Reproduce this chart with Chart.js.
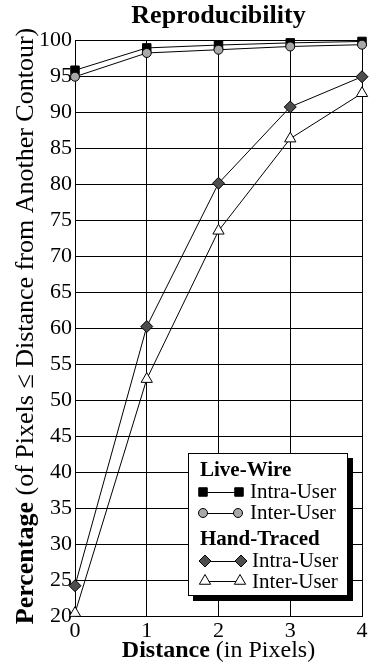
<!DOCTYPE html>
<html>
<head>
  <title>Reproducibility</title>
  <script src="https://cdn.jsdelivr.net/npm/chart.js"></script>
  <style>
    html, body { margin: 0; padding: 0; background: #fff; }
    #wrap { width: 372px; height: 663px; }
  </style>
</head>
<body>
  <div id="wrap"><canvas id="myChart" width="372" height="663"></canvas></div>
  <script>
    // Data
    const distances = [0, 1, 2, 3, 4];
    const liveWireIntra = [95.8, 98.9, 99.3, 99.6, 99.8];
    const liveWireInter = [94.9, 98.2, 98.65, 99.1, 99.35];
    const handIntra = [24.2, 60.2, 80.1, 90.7, 94.9];
    const handInter = [20.4, 52.9, 73.5, 86.3, 92.6];
    const yTicks = { min: 20, max: 100, step: 5 };
    const xTicks = { min: 0, max: 4, step: 1 };

    const serif = "'Liberation Serif', 'Times New Roman', serif";

    function pts(vals) {
      return distances.map((d, i) => ({ x: d, y: vals[i] }));
    }

    const styles = {
      lwIntra: { pointStyle: 'rect', radius: 6, fill: '#000000' },
      lwInter: { pointStyle: 'circle', radius: 4.5, fill: '#a8a8a8' },
      htIntra: { pointStyle: 'rectRot', radius: 6, fill: '#4d4d4d' },
      htInter: { pointStyle: 'triangle', radius: 6.5, fill: '#ffffff' }
    };

    function ds(label, vals, st, order) {
      return {
        label: label,
        data: pts(vals),
        borderColor: '#000',
        borderWidth: 1,
        pointStyle: st.pointStyle,
        pointRadius: st.radius,
        pointBackgroundColor: st.fill,
        pointBorderColor: '#000',
        pointBorderWidth: 1,
        tension: 0,
        clip: false,
        order: order
      };
    }

    // draw a marker like the chart does (used for the legend)
    function marker(ctx, st, x, y) {
      ctx.save();
      ctx.fillStyle = st.fill;
      ctx.strokeStyle = '#000';
      ctx.lineWidth = 1;
      Chart.helpers.drawPoint(ctx, { pointStyle: st.pointStyle, radius: st.radius, rotation: 0, borderWidth: 1 }, x, y);
      ctx.restore();
    }

    const textPlugin = {
      id: 'textPlugin',
      afterDraw(chart) {
        const ctx = chart.ctx;
        const a = chart.chartArea;
        ctx.save();
        ctx.fillStyle = '#000';
        ctx.textBaseline = 'alphabetic';

        // title
        ctx.font = 'bold 26px ' + serif;
        ctx.textAlign = 'center';
        ctx.fillText('Reproducibility', (a.left + a.right) / 2, 23);

        // mixed-weight axis title helper
        function mixed(parts, cx, cy, size) {
          let w = 0;
          parts.forEach(p => { ctx.font = p[1] + ' ' + size + 'px ' + serif; w += ctx.measureText(p[0]).width; });
          let x = cx - w / 2;
          ctx.textAlign = 'left';
          parts.forEach(p => {
            ctx.font = p[1] + ' ' + size + 'px ' + serif;
            ctx.fillText(p[0], x, cy);
            x += ctx.measureText(p[0]).width;
          });
        }
        mixed([['Distance', 'bold'], [' (in Pixels)', 'normal']], (a.left + a.right) / 2, 657, 24);

        ctx.save();
        ctx.translate(33, 326);
        ctx.rotate(-Math.PI / 2);
        mixed([['Percentage', 'bold'], [' (of Pixels \u2264 Distance from Another Contour)', 'normal']], 0, 0, 26);
        ctx.restore();

        // legend box with drop shadow
        const bx = 188, by = 453, bw = 160, bh = 143;
        ctx.fillStyle = '#000';
        ctx.fillRect(bx + 5, by + 5, bw, bh);
        ctx.fillStyle = '#fff';
        ctx.fillRect(bx, by, bw, bh);
        ctx.strokeStyle = '#000';
        ctx.lineWidth = 1;
        ctx.strokeRect(bx + 0.5, by + 0.5, bw - 1, bh - 1);

        ctx.fillStyle = '#000';
        ctx.textAlign = 'left';
        ctx.font = 'bold 21px ' + serif;
        ctx.fillText('Live-Wire', 200, 476);
        ctx.fillText('Hand-Traced', 200, 545);

        const rows = [
          [styles.lwIntra, 203, 239, 492, 'Intra-User', 250, 498],
          [styles.lwInter, 203, 238, 513, 'Inter-User', 250, 519],
          [styles.htIntra, 205, 241, 561, 'Intra-User', 252, 567],
          [styles.htInter, 205, 240, 581, 'Inter-User', 252, 588]
        ];
        rows.forEach(r => {
          ctx.beginPath();
          ctx.moveTo(r[1], r[3] + 0.5);
          ctx.lineTo(r[2], r[3] + 0.5);
          ctx.strokeStyle = '#000';
          ctx.lineWidth = 1;
          ctx.stroke();
          marker(ctx, r[0], r[1], r[3]);
          marker(ctx, r[0], r[2], r[3]);
          ctx.fillStyle = '#000';
          ctx.font = '21px ' + serif;
          ctx.fillText(r[4], r[5], r[6]);
        });
        ctx.restore();
      }
    };

    const ctx = document.getElementById('myChart').getContext('2d');
    const myChart = new Chart(ctx, {
      type: 'line',
      data: {
        datasets: [
          ds('Live-Wire Intra-User', liveWireIntra, styles.lwIntra, 4),
          ds('Live-Wire Inter-User', liveWireInter, styles.lwInter, 3),
          ds('Hand-Traced Intra-User', handIntra, styles.htIntra, 2),
          ds('Hand-Traced Inter-User', handInter, styles.htInter, 1)
        ]
      },
      options: {
        responsive: false,
        animation: false,
        layout: { padding: { top: 40, right: 10, left: 0, bottom: 0 } },
        plugins: {
          legend: { display: false },
          title: { display: false },
          tooltip: { enabled: false }
        },
        scales: {
          x: {
            type: 'linear',
            min: xTicks.min,
            max: xTicks.max,
            afterFit(scale) { scale.height = 47; },
            ticks: { stepSize: xTicks.step, color: '#000', padding: 2, font: { family: serif, size: 22 } },
            grid: { color: '#000', lineWidth: 1, drawTicks: false },
            border: { color: '#000', width: 1 }
          },
          y: {
            min: yTicks.min,
            max: yTicks.max,
            afterFit(scale) { scale.width = 75; },
            ticks: { stepSize: yTicks.step, color: '#000', padding: 3, font: { family: serif, size: 22 } },
            grid: { color: '#000', lineWidth: 1, drawTicks: false },
            border: { color: '#000', width: 1 }
          }
        }
      },
      plugins: [textPlugin]
    });
  </script>
</body>
</html>
